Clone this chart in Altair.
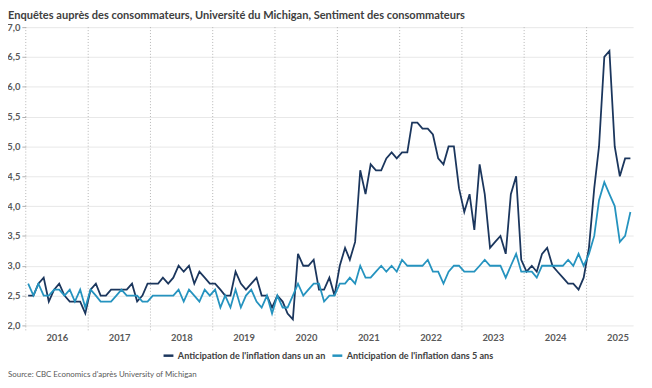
import altair as alt
import pandas as pd

# ---- data (monthly, Jan 2016 - Sep 2025) ----
one_year = [
    2.5, 2.5, 2.7, 2.8, 2.4, 2.6, 2.7, 2.5, 2.4, 2.4, 2.4, 2.2,  # 2016
    2.6, 2.7, 2.5, 2.5, 2.6, 2.6, 2.6, 2.6, 2.7, 2.4, 2.5, 2.7,  # 2017
    2.7, 2.7, 2.8, 2.7, 2.8, 3.0, 2.9, 3.0, 2.7, 2.9, 2.8, 2.7,  # 2018
    2.7, 2.6, 2.5, 2.5, 2.9, 2.7, 2.6, 2.7, 2.8, 2.5, 2.5, 2.3,  # 2019
    2.5, 2.4, 2.2, 2.1, 3.2, 3.0, 3.0, 3.1, 2.6, 2.6, 2.8, 2.5,  # 2020
    3.0, 3.3, 3.1, 3.4, 4.6, 4.2, 4.7, 4.6, 4.6, 4.8, 4.9, 4.8,  # 2021
    4.9, 4.9, 5.4, 5.4, 5.3, 5.3, 5.2, 4.8, 4.7, 5.0, 5.0, 4.3,  # 2022
    3.9, 4.2, 3.6, 4.7, 4.2, 3.3, 3.4, 3.5, 3.2, 4.2, 4.5, 3.1,  # 2023
    2.9, 3.0, 2.9, 3.2, 3.3, 3.0, 2.9, 2.8, 2.7, 2.7, 2.6, 2.8,  # 2024
    3.3, 4.3, 5.0, 6.5, 6.6, 5.0, 4.5, 4.8, 4.8,                 # 2025
]
five_year = [
    2.7, 2.5, 2.7, 2.5, 2.5, 2.6, 2.6, 2.5, 2.6, 2.4, 2.6, 2.3,  # 2016
    2.6, 2.5, 2.4, 2.4, 2.4, 2.5, 2.6, 2.5, 2.5, 2.5, 2.4, 2.4,  # 2017
    2.5, 2.5, 2.5, 2.5, 2.5, 2.6, 2.4, 2.6, 2.5, 2.4, 2.6, 2.5,  # 2018
    2.6, 2.3, 2.5, 2.3, 2.6, 2.3, 2.5, 2.6, 2.4, 2.3, 2.5, 2.2,  # 2019
    2.5, 2.3, 2.3, 2.5, 2.7, 2.5, 2.6, 2.7, 2.7, 2.4, 2.5, 2.5,  # 2020
    2.7, 2.7, 2.8, 2.7, 3.0, 2.8, 2.8, 2.9, 3.0, 2.9, 3.0, 2.9,  # 2021
    3.1, 3.0, 3.0, 3.0, 3.0, 3.1, 2.9, 2.9, 2.7, 2.9, 3.0, 3.0,  # 2022
    2.9, 2.9, 2.9, 3.0, 3.1, 3.0, 3.0, 3.0, 2.8, 3.0, 3.2, 2.9,  # 2023
    2.9, 2.9, 2.8, 3.0, 3.0, 3.0, 3.0, 3.0, 3.1, 3.0, 3.2, 3.0,  # 2024
    3.2, 3.5, 4.1, 4.4, 4.2, 4.0, 3.4, 3.5, 3.9,                 # 2025
]
series_names = [
    "Anticipation de l'inflation dans un an",
    "Anticipation de l'inflation dans 5 ans",
]
years = list(range(2016, 2026))
y_ticks = [2.0, 2.5, 3.0, 3.5, 4.0, 4.5, 5.0, 5.5, 6.0, 6.5, 7.0]
title_text = "Enquêtes auprès des consommateurs, Université du Michigan, Sentiment des consommateurs"
source_text = "Source: CBC Economics d'après University of Michigan"

DARK = "#1b365d"
LIGHT = "#2593bf"
FONT = "Lato"

months = pd.date_range("2016-01-01", periods=len(one_year), freq="MS") + pd.Timedelta(days=14)
df = pd.DataFrame({
    "date": list(months) + list(months),
    "value": one_year + five_year,
    "series": [series_names[0]] * len(one_year) + [series_names[1]] * len(five_year),
})
bounds = pd.DataFrame({"date": [pd.Timestamp(year=y, month=1, day=1) for y in years]})
src = pd.DataFrame({"t": [source_text]})

x_scale = alt.Scale(domain=[alt.DateTime(year=2016, month=1, date=1),
                            alt.DateTime(year=2025, month=10, date=1)])

x_axis = alt.Axis(
    values=[alt.DateTime(year=y, month=7, date=1) for y in years],
    format="%Y", title=None, ticks=False, domain=False, grid=False,
    labelFont=FONT, labelFontSize=9.5, labelFontWeight="bold",
    labelColor="#595959", labelPadding=7,
)

rules = alt.Chart(bounds).mark_rule(
    strokeDash=[1, 2], color="#b5b5b5", strokeWidth=1
).encode(
    x=alt.X("date:T", scale=x_scale, axis=x_axis),
    y=alt.value(0), y2=alt.value(308),
)

lines = alt.Chart(df).mark_line(strokeWidth=1.8).encode(
    x=alt.X("date:T", scale=x_scale, axis=x_axis),
    y=alt.Y("value:Q", scale=alt.Scale(domain=[2, 7], nice=False, zero=False),
            axis=alt.Axis(values=y_ticks, title=None, domain=False,
                          labelExpr="replace(format(datum.value, '.1f'), '.', ',')",
                          tickColor="#b0b0b0", tickSize=4, labelPadding=2,
                          gridColor="#e8e8e8", gridWidth=1,
                          labelFont=FONT, labelFontSize=9.5, labelFontWeight="bold",
                          labelColor="#595959")),
    color=alt.Color("series:N",
                    scale=alt.Scale(domain=series_names, range=[DARK, LIGHT]),
                    legend=alt.Legend(orient="none", legendX=138, legendY=326,
                                      direction="horizontal", title=None,
                                      symbolType="stroke", symbolStrokeWidth=2.5,
                                      symbolSize=100, labelFont=FONT,
                                      labelFontSize=9.2, labelFontWeight="bold",
                                      labelColor="#404040", labelLimit=300,
                                      columnPadding=1, labelOffset=3)),
)

source = alt.Chart(src).mark_text(
    align="left", baseline="middle", font=FONT, fontSize=8, color="#595959"
).encode(x=alt.value(-18), y=alt.value(352), text="t:N")

chart = alt.layer(rules, lines, source).properties(
    width=615, height=302,
    title=alt.TitleParams(title_text, anchor="start", frame="group", dx=-18,
                          offset=1, font=FONT, fontSize=11.2, fontWeight="bold",
                          color="#404040"),
    autosize=alt.AutoSizeParams(type="none"),
    padding={"left": 18, "top": 17, "right": 11, "bottom": 61},
).configure_view(stroke=None)

chart.save("out.html", embed_options={"renderer": "svg", "actions": False})
